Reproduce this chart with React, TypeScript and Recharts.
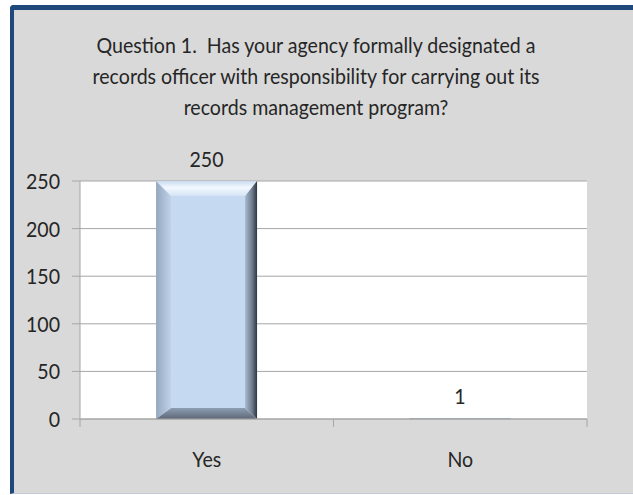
import React from "react";
import { BarChart, Bar, XAxis, YAxis, CartesianGrid, LabelList } from "recharts";

const categories = ["Yes", "No"];
const responses = [250, 1];
const yTicks = [0, 50, 100, 150, 200, 250];
const titleLines = [
  "Question 1.  Has your agency formally designated a",
  "records officer with responsibility for carrying out its",
  "records management program?",
];

const data = categories.map((c, i) => ({ category: c, responses: responses[i] }));

const FONT = "Lato, 'Open Sans', sans-serif";
const TEXT = "#262626";
const SX = 0.933;
const PLOT_LEFT = 80;
const PLOT_RIGHT = 587;
const HALF_BAND = (PLOT_RIGHT - PLOT_LEFT) / categories.length / 2;

const NText = ({ x, y, anchor = "middle", size = 21, children }: any) => (
  <text
    transform={`translate(${x},${y}) scale(${SX},1)`}
    x={0}
    y={0}
    textAnchor={anchor}
    fontFamily={FONT}
    fontSize={size}
    fill={TEXT}
    style={{ whiteSpace: "pre" }}
  >
    {children}
  </text>
);

const BevelBar = (props: any) => {
  const { x, y, width, height, index } = props;
  if (!(height > 0)) return null;
  if (height < 4) {
    return <rect x={x} y={y} width={width} height={Math.max(height, 1)} fill="#9AA6B6" />;
  }
  const t = Math.min(15, height / 3);
  const l = Math.min(15, width / 3);
  const r = Math.min(12, width / 3);
  const b = Math.min(11, height / 3);
  const id = `bv${index}`;
  const x2 = x + width;
  const y2 = y + height;
  return (
    <g>
      <defs>
        <linearGradient id={`${id}t`} x1="0" y1="0" x2="0" y2="1">
          <stop offset="0" stopColor="#C9DBF0" />
          <stop offset="0.45" stopColor="#F4F9FF" />
          <stop offset="1" stopColor="#D3E3F5" />
        </linearGradient>
        <linearGradient id={`${id}l`} x1="0" y1="0" x2="1" y2="0">
          <stop offset="0" stopColor="#95A8BF" />
          <stop offset="1" stopColor="#BFD2E9" />
        </linearGradient>
        <linearGradient id={`${id}r`} x1="0" y1="0" x2="1" y2="0">
          <stop offset="0" stopColor="#A8BACF" />
          <stop offset="0.6" stopColor="#6C7A8C" />
          <stop offset="1" stopColor="#2E3540" />
        </linearGradient>
        <linearGradient id={`${id}b`} x1="0" y1="0" x2="0" y2="1">
          <stop offset="0" stopColor="#8E9EB2" />
          <stop offset="1" stopColor="#5D6878" />
        </linearGradient>
      </defs>
      <rect x={x + l} y={y + t} width={width - l - r} height={height - t - b} fill="#C5D9F1" />
      <polygon points={`${x},${y} ${x2},${y} ${x2 - r},${y + t} ${x + l},${y + t}`} fill={`url(#${id}t)`} />
      <polygon points={`${x},${y} ${x + l},${y + t} ${x + l},${y2 - b} ${x},${y2}`} fill={`url(#${id}l)`} />
      <polygon points={`${x2},${y} ${x2},${y2} ${x2 - r},${y2 - b} ${x2 - r},${y + t}`} fill={`url(#${id}r)`} />
      <polygon points={`${x},${y2} ${x + l},${y2 - b} ${x2 - r},${y2 - b} ${x2},${y2}`} fill={`url(#${id}b)`} />
    </g>
  );
};

const ValueLabel = (props: any) => {
  const { x, y, width, value } = props;
  return <NText x={x + width / 2} y={y - 14}>{value}</NText>;
};

const YTick = (props: any) => {
  const { x, y, payload } = props;
  return (
    <NText x={x} y={y + 8} anchor="end">
      {payload.value}
    </NText>
  );
};

const XTick = (props: any) => {
  const { x, payload } = props;
  const axisY = 419;
  return (
    <g>
      <line x1={x - HALF_BAND} y1={axisY} x2={x - HALF_BAND} y2={axisY + 8} stroke="#A6A6A6" />
      <line x1={x + HALF_BAND} y1={axisY} x2={x + HALF_BAND} y2={axisY + 8} stroke="#A6A6A6" />
      <NText x={x} y={axisY + 48}>{payload.value}</NText>
    </g>
  );
};

export default function App() {
  return (
    <div style={{ position: "absolute", left: 0, top: 0, width: 633, height: 495, background: "#fff", overflow: "hidden" }}>
      <div
        style={{
          position: "absolute",
          left: 10,
          top: 5,
          width: 640,
          height: 489,
          boxSizing: "border-box",
          background: "#D9D9D9",
          borderLeft: "4px solid #1F497D",
          borderTop: "5px solid #1F497D",
          borderBottom: "1px solid #C3CCD6",
          borderTopLeftRadius: 4,
        }}
      />
      <svg width={633} height={160} style={{ position: "absolute", left: 0, top: 0 }}>
        {titleLines.map((line, i) => (
          <NText key={i} x={316} y={53 + i * 31}>
            {line}
          </NText>
        ))}
      </svg>
      <div style={{ position: "absolute", left: 0, top: 0 }}>
        <BarChart
          width={633}
          height={495}
          data={data}
          margin={{ top: 181, right: 46, bottom: 26, left: 20 }}
          barCategoryGap="30%"
        >
          <CartesianGrid vertical={false} stroke="#A6A6A6" fill="#FFFFFF" />
          <XAxis
            dataKey="category"
            height={50}
            tickLine={false}
            axisLine={{ stroke: "#A6A6A6" }}
            tick={<XTick />}
            interval={0}
          />
          <YAxis
            width={60}
            domain={[0, 250]}
            ticks={yTicks}
            interval={0}
            tickSize={8}
            tickMargin={12}
            tickLine={{ stroke: "#A6A6A6" }}
            axisLine={{ stroke: "#A6A6A6" }}
            tick={<YTick />}
          />
          <Bar dataKey="responses" shape={<BevelBar />} isAnimationActive={false}>
            <LabelList dataKey="responses" content={<ValueLabel />} />
          </Bar>
        </BarChart>
      </div>
    </div>
  );
}
